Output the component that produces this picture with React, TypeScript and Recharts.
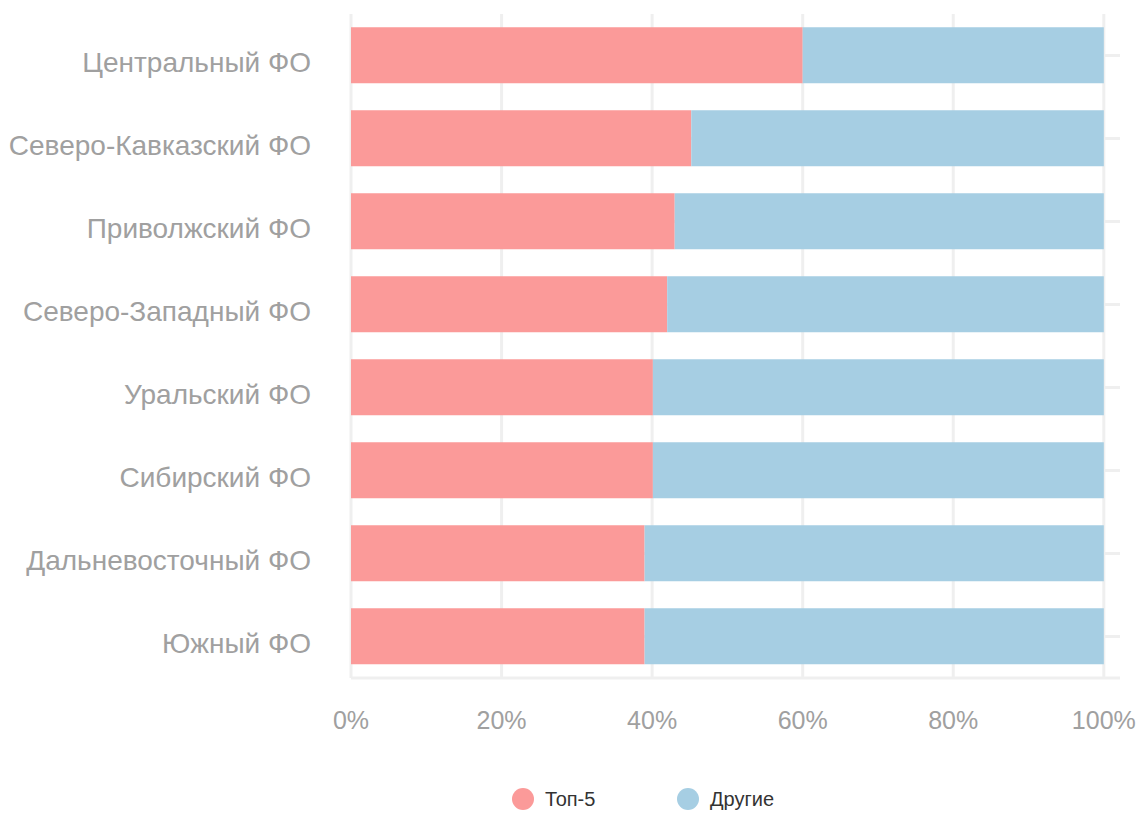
import React from 'react';
import { BarChart, Bar, XAxis, YAxis, CartesianGrid, Legend } from 'recharts';

const categories = [
  'Центральный ФО',
  'Северо-Кавказский ФО',
  'Приволжский ФО',
  'Северо-Западный ФО',
  'Уральский ФО',
  'Сибирский ФО',
  'Дальневосточный ФО',
  'Южный ФО',
];
const top5 = [60.0, 45.2, 43.0, 42.0, 40.1, 40.1, 39.0, 39.0];
const others = [40.0, 54.8, 57.0, 58.0, 59.9, 59.9, 61.0, 61.0];
const xTicks = [0, 20, 40, 60, 80, 100];
const seriesNames = ['Топ-5', 'Другие'];
const seriesColors = ['#fb9a99', '#a6cee3'];

const data = categories.map((c, i) => ({ name: c, top5: top5[i], others: others[i] }));

const FONT = '"Liberation Sans", Arial, Helvetica, sans-serif';

const YTick = (props: any) => {
  const { x, y, payload } = props;
  return (
    <text x={x} y={y + 7} dy="0.355em" textAnchor="end" fill="#a0a0a0" fontSize={28} fontFamily={FONT}>
      {payload.value}
    </text>
  );
};

const LegendContent = () => (
  <div style={{ height: 40, width: 1140, position: 'relative', fontFamily: FONT }}>
    {seriesNames.map((n, i) => (
      <div
        key={n}
        style={{
          position: 'absolute',
          left: 512 + i * 165,
          top: 12,
          display: 'flex',
          alignItems: 'center',
          height: 22,
        }}
      >
        <span style={{ width: 22, height: 22, borderRadius: 11, background: seriesColors[i], display: 'inline-block' }} />
        <span style={{ marginLeft: 11, fontSize: 20, color: '#333' }}>{n}</span>
      </div>
    ))}
  </div>
);

export default function App() {
  return (
    <div style={{ position: 'absolute', left: 0, top: 0, width: 1140, height: 816, background: '#fff' }}>
      <BarChart
        width={1140}
        height={816}
        data={data}
        layout="vertical"
        margin={{ top: 14, right: 20, bottom: 0, left: 0 }}
        barCategoryGap="16%"
      >
        <CartesianGrid stroke="#efefef" strokeWidth={3} syncWithTicks />
        <XAxis
          type="number"
          domain={[0, 102.15]}
          ticks={xTicks}
          tickFormatter={(v: number) => `${v}%`}
          tickSize={0}
          tickMargin={33}
          height={98}
          axisLine={{ stroke: '#efefef', strokeWidth: 3 }}
          tick={{ fill: '#a0a0a0', fontSize: 25, fontFamily: FONT }}
        />
        <YAxis
          type="category"
          dataKey="name"
          width={351}
          tickSize={0}
          tickMargin={40}
          axisLine={false}
          tick={<YTick />}
          interval={0}
        />
        <Legend verticalAlign="bottom" height={40} content={<LegendContent />} wrapperStyle={{ left: 0, width: 1140 }} />
        <Bar dataKey="top5" stackId="a" fill={seriesColors[0]} isAnimationActive={false} name={seriesNames[0]} />
        <Bar dataKey="others" stackId="a" fill={seriesColors[1]} isAnimationActive={false} name={seriesNames[1]} />
      </BarChart>
    </div>
  );
}
